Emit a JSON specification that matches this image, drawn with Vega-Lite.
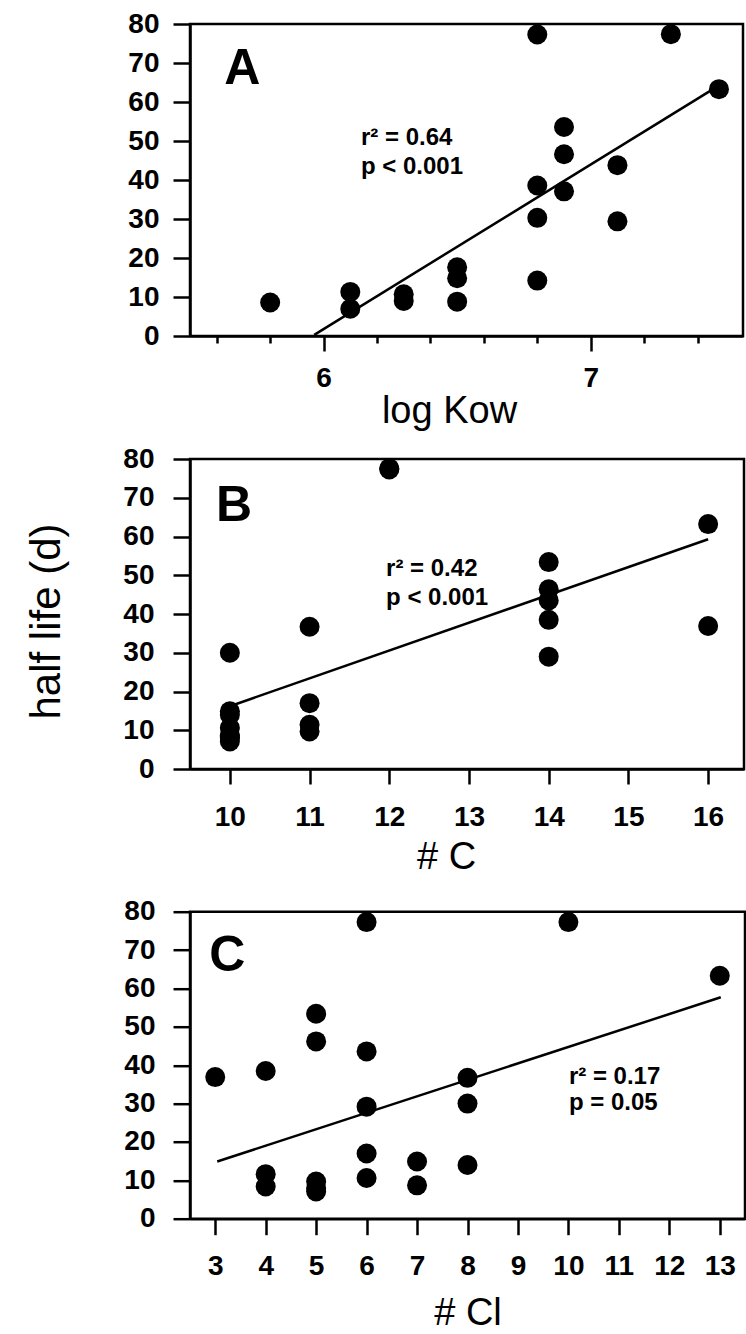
{
  "$schema": "https://vega.github.io/schema/vega-lite/v6.json",
  "padding": {"left": 24, "top": 8, "right": 0, "bottom": 0},
  "background": "white",
  "datasets": {
    "ptsA": [
      {"logKow": 5.8, "halfLife": 8.6},
      {"logKow": 6.1, "halfLife": 11.3},
      {"logKow": 6.1, "halfLife": 7.0},
      {"logKow": 6.3, "halfLife": 10.7},
      {"logKow": 6.3, "halfLife": 9.0},
      {"logKow": 6.5, "halfLife": 17.6},
      {"logKow": 6.5, "halfLife": 14.8},
      {"logKow": 6.5, "halfLife": 8.8},
      {"logKow": 6.8, "halfLife": 77.3},
      {"logKow": 6.8, "halfLife": 38.6},
      {"logKow": 6.8, "halfLife": 30.3},
      {"logKow": 6.8, "halfLife": 14.2},
      {"logKow": 6.9, "halfLife": 53.6},
      {"logKow": 6.9, "halfLife": 46.6},
      {"logKow": 6.9, "halfLife": 37.1},
      {"logKow": 7.1, "halfLife": 43.8},
      {"logKow": 7.1, "halfLife": 29.4},
      {"logKow": 7.3, "halfLife": 77.4},
      {"logKow": 7.48, "halfLife": 63.3}
    ],
    "fitA": [
      {"logKow": 5.965, "halfLife": 0.3},
      {"logKow": 7.47, "halfLife": 63.8}
    ],
    "notesA": [
      {"logKow": 5.628, "halfLife": 64.6, "label": "A"}
    ],
    "statsA": [
      {"logKow": 6.14, "halfLife": 49.0, "label": "r² = 0.64"},
      {"logKow": 6.14, "halfLife": 41.6, "label": "p < 0.001"}
    ],
    "ptsB": [
      {"nC": 10, "halfLife": 30.0},
      {"nC": 10, "halfLife": 14.9},
      {"nC": 10, "halfLife": 14.0},
      {"nC": 10, "halfLife": 10.6},
      {"nC": 10, "halfLife": 8.7},
      {"nC": 10, "halfLife": 8.4},
      {"nC": 10, "halfLife": 8.0},
      {"nC": 10, "halfLife": 7.1},
      {"nC": 11, "halfLife": 36.7},
      {"nC": 11, "halfLife": 17.0},
      {"nC": 11, "halfLife": 11.4},
      {"nC": 11, "halfLife": 9.7},
      {"nC": 12, "halfLife": 77.3},
      {"nC": 12, "halfLife": 77.6},
      {"nC": 14, "halfLife": 53.4},
      {"nC": 14, "halfLife": 46.4},
      {"nC": 14, "halfLife": 43.5},
      {"nC": 14, "halfLife": 38.5},
      {"nC": 14, "halfLife": 29.0},
      {"nC": 16, "halfLife": 63.2},
      {"nC": 16, "halfLife": 36.9}
    ],
    "fitB": [
      {"nC": 10, "halfLife": 16.2},
      {"nC": 16, "halfLife": 59.3}
    ],
    "notesB": [
      {"nC": 9.826, "halfLife": 64.1, "label": "B"}
    ],
    "statsB": [
      {"nC": 11.96, "halfLife": 49.8, "label": "r² = 0.42"},
      {"nC": 11.96, "halfLife": 42.4, "label": "p < 0.001"}
    ],
    "ptsC": [
      {"nCl": 3, "halfLife": 36.9},
      {"nCl": 4, "halfLife": 38.5},
      {"nCl": 4, "halfLife": 11.6},
      {"nCl": 4, "halfLife": 8.4},
      {"nCl": 5, "halfLife": 53.4},
      {"nCl": 5, "halfLife": 46.2},
      {"nCl": 5, "halfLife": 9.7},
      {"nCl": 5, "halfLife": 8.0},
      {"nCl": 5, "halfLife": 7.1},
      {"nCl": 6, "halfLife": 77.3},
      {"nCl": 6, "halfLife": 43.6},
      {"nCl": 6, "halfLife": 29.2},
      {"nCl": 6, "halfLife": 17.0},
      {"nCl": 6, "halfLife": 10.6},
      {"nCl": 7, "halfLife": 14.9},
      {"nCl": 7, "halfLife": 8.7},
      {"nCl": 8, "halfLife": 36.7},
      {"nCl": 8, "halfLife": 30.0},
      {"nCl": 8, "halfLife": 14.0},
      {"nCl": 10, "halfLife": 77.3},
      {"nCl": 13, "halfLife": 63.3}
    ],
    "fitC": [
      {"nCl": 3.04, "halfLife": 14.9},
      {"nCl": 13.02, "halfLife": 57.7}
    ],
    "notesC": [
      {"nCl": 2.883, "halfLife": 64.6, "label": "C"}
    ],
    "statsC": [
      {"nCl": 10.01, "halfLife": 35.1, "label": "r² = 0.17"},
      {"nCl": 10.01, "halfLife": 28.4, "label": "p = 0.05"}
    ]
  },
  "config": {
    "font": "Liberation Sans",
    "view": {"stroke": "black", "strokeWidth": 2.5},
    "axis": {
      "grid": false,
      "domainColor": "black",
      "domainWidth": 2.5,
      "tickColor": "black",
      "tickWidth": 2.5,
      "labelFont": "Liberation Sans",
      "labelFontSize": 28,
      "labelFontWeight": "bold",
      "labelColor": "black",
      "labelFlush": false,
      "labelOverlap": false,
      "titleFont": "Liberation Sans",
      "titleFontSize": 38,
      "titleFontWeight": "normal",
      "titleColor": "black"
    },
    "text": {"font": "Liberation Sans", "color": "black"}
  },
  "bounds": "flush",
  "spacing": 123,
  "vconcat": [
    {
      "width": 553,
      "height": 312,
      "encoding": {
        "x": {
          "field": "logKow", "type": "quantitative",
          "scale": {"domain": [5.5, 7.57], "nice": false, "zero": false},
          "axis": {
            "title": "log Kow",
            "titleX": 259,
            "values": [5.6, 5.8, 6, 6.2, 6.4, 6.6, 6.8, 7, 7.2, 7.4],
            "format": ".0f",
            "tickSize": {"condition": {"test": "datum.value == 6 || datum.value == 7", "value": 15}, "value": 7},
            "labelExpr": "datum.value == 6 || datum.value == 7 ? datum.label : ''",
            "labelPadding": 13,
            "titlePadding": 0
          }
        },
        "y": {
          "field": "halfLife", "type": "quantitative",
          "scale": {"domain": [0, 80], "nice": false},
          "axis": {"title": null, "format": "d", "values": [0, 10, 20, 30, 40, 50, 60, 70, 80], "tickSize": 17, "labelPadding": 14}
        }
      },
      "layer": [
        {"data": {"name": "ptsA"}, "mark": {"type": "circle", "size": 400, "color": "black", "opacity": 1}},
        {"data": {"name": "fitA"}, "mark": {"type": "line", "color": "black", "strokeWidth": 2.5}},
        {
          "data": {"name": "notesA"},
          "mark": {"type": "text", "fontSize": 50, "fontWeight": "bold", "align": "left", "baseline": "alphabetic"},
          "encoding": {"text": {"field": "label"}}
        },
        {
          "data": {"name": "statsA"},
          "mark": {"type": "text", "fontSize": 24, "fontWeight": "bold", "align": "left", "baseline": "alphabetic"},
          "encoding": {"text": {"field": "label"}}
        }
      ]
    },
    {
      "bounds": "flush",
      "spacing": 142.7,
      "vconcat": [
        {
          "width": 554,
          "height": 310,
          "encoding": {
            "x": {
              "field": "nC", "type": "quantitative",
              "scale": {"domain": [9.5, 16.45], "nice": false, "zero": false},
              "axis": {"title": "# C", "titleX": 256, "format": "d", "values": [10, 11, 12, 13, 14, 15, 16], "tickSize": 15, "labelPadding": 19, "titlePadding": 7}
            },
            "y": {
              "field": "halfLife", "type": "quantitative",
              "scale": {"domain": [0, 80], "nice": false},
              "axis": {"title": "half life (d)", "titleFontSize": 42, "titlePadding": 54, "titleY": 162, "format": "d", "values": [0, 10, 20, 30, 40, 50, 60, 70, 80], "tickSize": 17, "labelPadding": 19}
            }
          },
          "layer": [
            {"data": {"name": "ptsB"}, "mark": {"type": "circle", "size": 400, "color": "black", "opacity": 1}},
            {"data": {"name": "fitB"}, "mark": {"type": "line", "color": "black", "strokeWidth": 2.5}},
            {
              "data": {"name": "notesB"},
              "mark": {"type": "text", "fontSize": 50, "fontWeight": "bold", "align": "left", "baseline": "alphabetic"},
              "encoding": {"text": {"field": "label"}}
            },
            {
              "data": {"name": "statsB"},
              "mark": {"type": "text", "fontSize": 24, "fontWeight": "bold", "align": "left", "baseline": "alphabetic"},
              "encoding": {"text": {"field": "label"}}
            }
          ]
        },
        {
          "width": 555,
          "height": 307,
          "encoding": {
            "x": {
              "field": "nCl", "type": "quantitative",
              "scale": {"domain": [2.5, 13.5], "nice": false, "zero": false},
              "axis": {"title": "# Cl", "format": "d", "values": [3, 4, 5, 6, 7, 8, 9, 10, 11, 12, 13], "tickSize": 16, "labelPadding": 18, "titlePadding": 14}
            },
            "y": {
              "field": "halfLife", "type": "quantitative",
              "scale": {"domain": [0, 80], "nice": false},
              "axis": {"title": null, "format": "d", "values": [0, 10, 20, 30, 40, 50, 60, 70, 80], "tickSize": 17, "labelPadding": 18}
            }
          },
          "layer": [
            {"data": {"name": "ptsC"}, "mark": {"type": "circle", "size": 400, "color": "black", "opacity": 1}},
            {"data": {"name": "fitC"}, "mark": {"type": "line", "color": "black", "strokeWidth": 2.5}},
            {
              "data": {"name": "notesC"},
              "mark": {"type": "text", "fontSize": 50, "fontWeight": "bold", "align": "left", "baseline": "alphabetic"},
              "encoding": {"text": {"field": "label"}}
            },
            {
              "data": {"name": "statsC"},
              "mark": {"type": "text", "fontSize": 24, "fontWeight": "bold", "align": "left", "baseline": "alphabetic"},
              "encoding": {"text": {"field": "label"}}
            }
          ]
        }
      ]
    }
  ]
}
